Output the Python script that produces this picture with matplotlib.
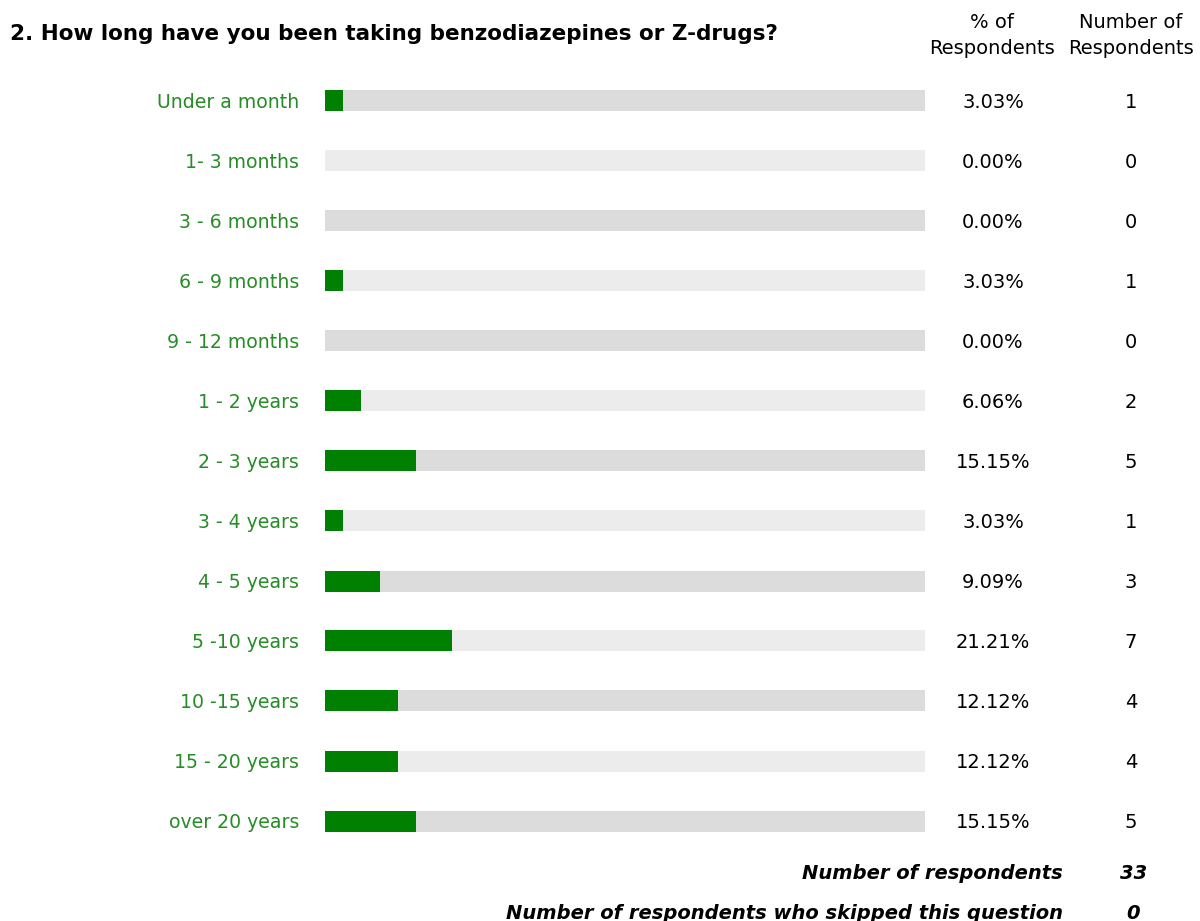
import matplotlib
matplotlib.use("Agg")
import matplotlib.pyplot as plt

categories = ["Under a month", "1- 3 months", "3 - 6 months", "6 - 9 months", "9 - 12 months",
              "1 - 2 years", "2 - 3 years", "3 - 4 years", "4 - 5 years", "5 -10 years",
              "10 -15 years", "15 - 20 years", "over 20 years"]
percents = [3.03, 0.00, 0.00, 3.03, 0.00, 6.06, 15.15, 3.03, 9.09, 21.21, 12.12, 12.12, 15.15]
counts = [1, 0, 0, 1, 0, 2, 5, 1, 3, 7, 4, 4, 5]
total_respondents = 33
skipped = 0

title = "2. How long have you been taking benzodiazepines or Z-drugs?"

W, H = 1200, 921
GREEN = "#008000"
LABEL_GREEN = "#268c26"

plt.rcParams["font.family"] = ["DejaVu Sans"]

fig = plt.figure(figsize=(W / 100, H / 100), dpi=100)

# bar track: x 325..925 px, rows from y 71 to 851 px
ax = fig.add_axes([325 / W, 1 - 851 / H, 600 / W, 780 / H])
n = len(categories)
rows = list(range(n))
track = ["#dcdcdc" if i % 2 == 0 else "#ececec" for i in rows]
ax.barh(rows, [100] * n, height=0.35, color=track, linewidth=0)
ax.barh(rows, percents, height=0.35, color=GREEN, linewidth=0)
ax.set_xlim(0, 100)
ax.set_ylim(n - 0.5, -0.5)
ax.axis("off")

px = 100 / 600  # percent per pixel
for i, (cat, p, c) in enumerate(zip(categories, percents, counts)):
    ax.text(-26 * px, i + 0.02, cat, ha="right", va="center", fontsize=13.6, color=LABEL_GREEN)
    ax.text((993 - 325) * px, i + 0.02, f"{p:.2f}%", ha="center", va="center", fontsize=14, color="black")
    ax.text((1131 - 325) * px, i + 0.02, str(c), ha="center", va="center", fontsize=14, color="black")
for t in ax.texts:
    t.set_clip_on(False)

fig.text(10 / W, 1 - 34 / H, title, ha="left", va="center", fontsize=15.5, fontweight="bold")
fig.text(992 / W, 1 - 22 / H, "% of", ha="center", va="center", fontsize=14)
fig.text(992 / W, 1 - 48 / H, "Respondents", ha="center", va="center", fontsize=14)
fig.text(1131 / W, 1 - 22 / H, "Number of", ha="center", va="center", fontsize=14)
fig.text(1131 / W, 1 - 48 / H, "Respondents", ha="center", va="center", fontsize=14)

fig.text(1063 / W, 1 - 873 / H, "Number of respondents", ha="right", va="center",
         fontsize=14, fontweight="heavy", style="italic")
fig.text(1147 / W, 1 - 873 / H, str(total_respondents), ha="right", va="center",
         fontsize=14, fontweight="heavy", style="italic")
fig.text(1063 / W, 1 - 913 / H, "Number of respondents who skipped this question", ha="right", va="center",
         fontsize=14, fontweight="heavy", style="italic")
fig.text(1140 / W, 1 - 913 / H, str(skipped), ha="right", va="center",
         fontsize=14, fontweight="heavy", style="italic")

fig.savefig("out.png", dpi=100)
